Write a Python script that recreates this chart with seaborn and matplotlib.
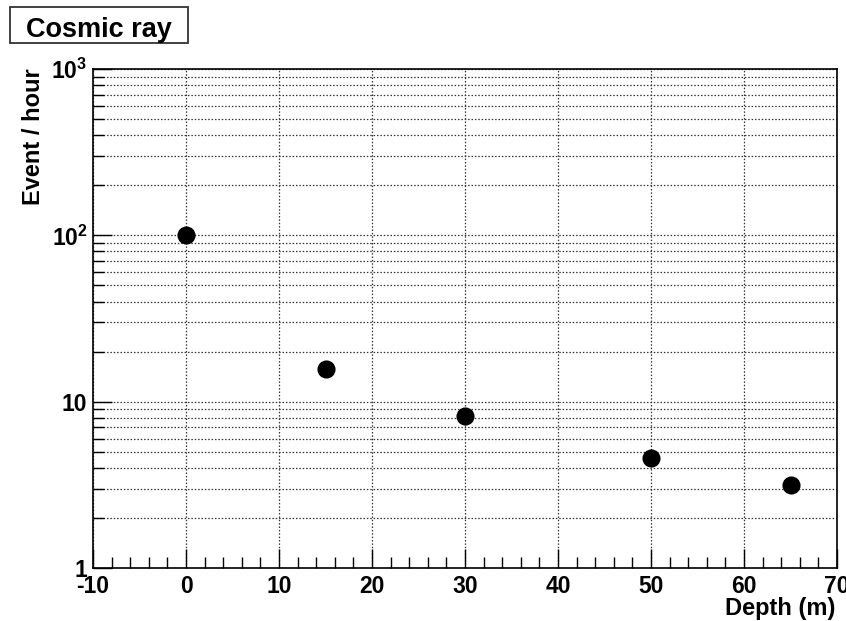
import matplotlib
matplotlib.use("Agg")
import matplotlib.pyplot as plt
import matplotlib.patches as mpatches
from matplotlib.ticker import FixedLocator, FixedFormatter, MultipleLocator, LogLocator, NullFormatter
import seaborn as sns
import pandas as pd

# Measured cosmic-ray event rate versus depth
depth_m = [0, 15, 30, 50, 65]
events_per_hour = [100, 15.8, 8.25, 4.56, 3.14]

x_ticks = [-10, 0, 10, 20, 30, 40, 50, 60, 70]
y_ticks = [1, 10, 100, 1000]
y_tick_labels = ["1", "10", r"$10^{2}$", r"$10^{3}$"]

title_text = "Cosmic ray"
x_label = "Depth (m)"
y_label = "Event / hour"

sns.set_theme(style="white")
plt.rcParams["font.family"] = ["Liberation Sans", "DejaVu Sans"]
plt.rcParams["font.weight"] = "bold"
plt.rcParams["text.color"] = "black"
plt.rcParams["axes.labelcolor"] = "black"
plt.rcParams["xtick.color"] = "black"
plt.rcParams["ytick.color"] = "black"
plt.rcParams["axes.unicode_minus"] = False
plt.rcParams["mathtext.fontset"] = "custom"
plt.rcParams["mathtext.rm"] = "Liberation Sans:bold"
plt.rcParams["mathtext.it"] = "Liberation Sans:bold"
plt.rcParams["mathtext.bf"] = "Liberation Sans:bold"
plt.rcParams["mathtext.default"] = "rm"

df = pd.DataFrame({"depth": depth_m, "rate": events_per_hour})

fig = plt.figure(figsize=(8.46, 6.21), dpi=100)
fig.patch.set_facecolor("white")
ax = fig.add_axes([93 / 846, 53 / 621, 744 / 846, 499 / 621])
ax.set_facecolor("white")

ax.set_yscale("log")
ax.set_xlim(-10, 70)
ax.set_ylim(1, 1000)

# grid: vertical lines at major x only, horizontal at every decade subdivision
grid_kw = dict(color="#333333", linestyle=(0, (1.2, 1.5)), linewidth=0.9)
ax.xaxis.set_major_locator(FixedLocator(x_ticks))
ax.xaxis.set_minor_locator(MultipleLocator(2))
ax.yaxis.set_major_locator(FixedLocator(y_ticks))
ax.yaxis.set_minor_locator(LogLocator(base=10, subs=range(2, 10)))
ax.yaxis.set_minor_formatter(NullFormatter())
ax.xaxis.grid(True, which="major", **grid_kw)
ax.yaxis.grid(True, which="both", **grid_kw)
ax.set_axisbelow(True)

sns.scatterplot(data=df, x="depth", y="rate", ax=ax, color="black",
                s=170, linewidth=0, zorder=5)

ax.set_xticklabels([str(t) for t in x_ticks])
ax.yaxis.set_major_formatter(FixedFormatter(y_tick_labels))

ax.tick_params(axis="both", which="major", direction="in", length=14, width=1,
               color="black", bottom=True, left=True, top=False, right=False,
               labelsize=16.5, labelcolor="black")
ax.tick_params(axis="both", which="minor", direction="in", length=8, width=1,
               color="black", bottom=True, left=True, top=False, right=False)
ax.tick_params(axis="x", which="major", pad=5)
ax.tick_params(axis="y", which="major", pad=4)
for lbl in ax.get_xticklabels() + ax.get_yticklabels():
    lbl.set_fontweight("bold")

for sp in ax.spines.values():
    sp.set_visible(True)
    sp.set_color("black")
    sp.set_linewidth(1.2)

ax.set_xlabel("")
ax.set_ylabel("")
fig.text(835 / 846, 1 - 608 / 621, x_label, ha="right", va="center",
         fontsize=17, fontweight="bold", color="black")
fig.text(33 / 846, 1 - 137 / 621, y_label, ha="center", va="center",
         rotation=90, fontsize=17, fontweight="bold", color="black")

# title box
fig.patches.append(mpatches.Rectangle((10 / 846, 1 - 43 / 621), 178 / 846, 36 / 621,
                                      transform=fig.transFigure, fill=True,
                                      facecolor="white", edgecolor="#333333",
                                      linewidth=1.3))
fig.text(99 / 846, 1 - 37 / 621, title_text, ha="center", va="baseline",
         fontsize=19.5, fontweight="bold", color="black")

fig.savefig("out.png", dpi=100)
